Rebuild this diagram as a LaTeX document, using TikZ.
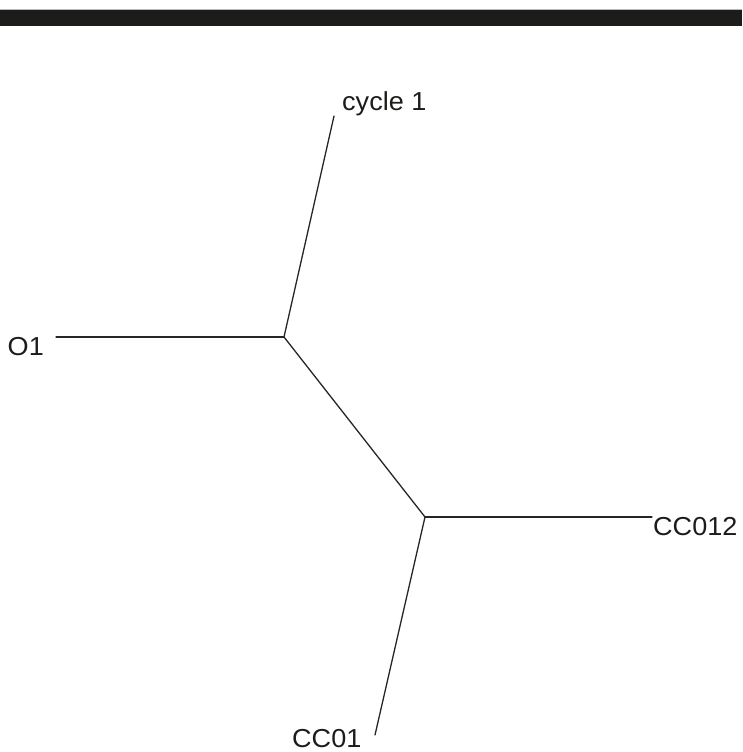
\documentclass[tikz,border=0pt]{standalone}
\usepackage{fontspec}
\setmainfont{Liberation Sans}
\usetikzlibrary{positioning}
\definecolor{Ink}{HTML}{1C1C1A}
\definecolor{Edge}{HTML}{262626}
\definecolor{Rule}{HTML}{B8B8B8}
\tikzset{
  branch/.style={draw=Edge, line width=1.3pt, line cap=round},
  leaf/.style={inner sep=0pt, text=Ink, font=\fontsize{26}{30}\selectfont,
    xscale=1.04, transform shape},
  band/.style={fill=Ink, draw=none}
}

\begin{document}
\begin{tikzpicture}[x=1pt,y=-1pt]
        \useasboundingbox (0,0) rectangle (742,752);
        % header strip
        \fill[Rule] (0,8.6) rectangle (742,10);
        \fill[band] (0,10) rectangle (742,25.6);
        % inner vertices
        \coordinate (a) at (284,337);
        \coordinate (b) at (425,517);
        % leaf tips
        \coordinate (tcyc) at (334,116);
        \coordinate (to) at (56,337);
        \coordinate (tcc12) at (652,517);
        \coordinate (tcc1) at (375,735);
        \node[leaf,anchor=base west] (cyc) at (342,110) {cycle 1};
        \node[leaf,anchor=base east] (o) at (44,355) {O1};
        \node[leaf,anchor=base west] (cc12) at (653,535) {CC012};
        \node[leaf,anchor=base west] (cc1) at (292,747) {CC01};
        \draw[branch] (a)--(tcyc); \draw[branch] (a)--(to);
        \draw[branch] (a)--(b);
        \draw[branch] (b)--(tcc12); \draw[branch] (b)--(tcc1);
      \end{tikzpicture}
\end{document}
